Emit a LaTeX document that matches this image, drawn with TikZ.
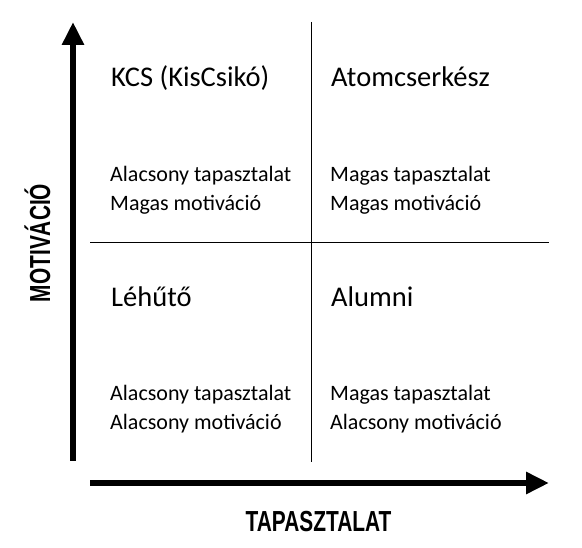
\documentclass[tikz,border=0pt]{standalone}
\usepackage{fontspec}
\usepackage{xcolor}
\usepackage{tikz}
\usetikzlibrary{arrows.meta}
\setmainfont{Carlito}
\newfontfamily\axisfont{Liberation Sans}
\newcommand{\narrowlbl}[1]{\scalebox{0.72}[1]{#1}}

\begin{document}
\begin{tikzpicture}[x=1pt, y=-1pt,
    axis/.style={line width=6pt, -{Triangle[length=23pt, width=21pt]}},
    grid/.style={line width=0.8pt},
    head/.style={anchor=base west, inner sep=0pt, font=\fontsize{28.5}{30}\selectfont},
    note/.style={anchor=base west, inner sep=0pt, align=left, font=\fontsize{22}{29}\selectfont},
    axislbl/.style={anchor=base, inner sep=0pt, font=\axisfont\bfseries\fontsize{29}{30}\selectfont}]
    \useasboundingbox (0,0) rectangle (582,548);

    % axes
    \coordinate (yfoot) at (73,461);
    \coordinate (ytip) at (73,22);
    \coordinate (xfoot) at (90,483);
    \coordinate (xtip) at (549,483);
    \draw[axis] (yfoot) -- (ytip);
    \draw[axis] (xfoot) -- (xtip);

    % quadrant lines
    \coordinate (vtop) at (311,22);
    \coordinate (vbot) at (311,462);
    \coordinate (hleft) at (90,242);
    \coordinate (hright) at (549,242);
    \draw[grid] (vtop) -- (vbot);
    \draw[grid] (hleft) -- (hright);

    % second line baseline is the anchor
    \node[head] (kcs) at (111,87) {KCS (KisCsikó)};
    \node[note] (kcsnote) at (110,211) {Alacsony tapasztalat\\Magas motiváció};
    \node[head] (atom) at (331,87) {Atomcserkész};
    \node[note] (atomnote) at (330,211) {Magas tapasztalat\\Magas motiváció};
    \node[head] (leh) at (111,307) {Léhűtő};
    \node[note] (lehnote) at (110,430) {Alacsony tapasztalat\\Alacsony motiváció};
    \node[head] (alum) at (331,307) {Alumni};
    \node[note] (alumnote) at (330,430) {Magas tapasztalat\\Alacsony motiváció};

    \node[axislbl, rotate=90] (mot) at (50,243) {\narrowlbl{MOTIVÁCIÓ}};
    \node[axislbl] (tap) at (318.5,532) {\narrowlbl{TAPASZTALAT}};
\end{tikzpicture}
\end{document}
